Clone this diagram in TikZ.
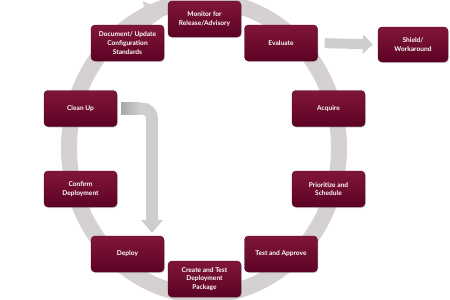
\documentclass[tikz,border=0pt]{standalone}
\usepackage{fontspec}
\setmainfont{Lato}
\usetikzlibrary{arrows.meta,shadows}
\definecolor{boxtop}{RGB}{128,22,58}
\definecolor{boxbot}{RGB}{92,2,36}
\definecolor{boxedge}{RGB}{80,0,30}
\definecolor{ringc}{RGB}{213,209,209}
\definecolor{arrc}{RGB}{206,206,206}
\definecolor{arrdark}{RGB}{168,168,168}
\begin{document}
\begin{tikzpicture}[x=1pt,y=-1pt,
  stepbox/.style={draw=boxedge, line width=0.4pt, rounded corners=4pt,
    top color=boxtop, bottom color=boxbot,
    minimum width=73pt, minimum height=36pt, inner sep=1pt,
    align=center, text=white,
    font=\fontsize{6.6}{8.6}\selectfont\bfseries,
    drop shadow={shadow xshift=0.8pt, shadow yshift=-1pt, opacity=0.35}},
  grayarrow/.style={draw=arrc}]
\useasboundingbox (0,0) rectangle (450,300);
% ring
\draw[ringc, line width=16pt] (204,148) ellipse [x radius=135, y radius=147];
\fill[ringc] (143,1) -- (168,13) -- (147,28) -- cycle;
% nodes
\node[stepbox] (monitor) at (204.5,19) {Monitor for\\Release/Advisory};
\node[stepbox] (document) at (127.5,43) {Document/ Update\\Configuration\\Standards};
\node[stepbox] (evaluate) at (281,43) {Evaluate};
\node[stepbox, minimum width=70pt, minimum height=35pt] (shield) at (413,44.5) {Shield/\\Workaround};
\node[stepbox] (cleanup) at (80.5,108.5) {Clean Up};
\node[stepbox] (acquire) at (328.5,108.5) {Acquire};
\node[stepbox] (confirm) at (80.5,189) {Confirm\\Deployment};
\node[stepbox] (prioritize) at (328.5,189) {Prioritize and\\Schedule};
\node[stepbox] (deploy) at (127.5,254) {Deploy};
\node[stepbox] (test) at (281,254) {Test and Approve};
\node[stepbox] (create) at (204.5,279) {Create and Test\\Deployment\\Package};
% Evaluate -> Shield
\draw[arrc, line width=10pt, -{Triangle[width=19pt,length=10pt]}, shorten <=7pt, shorten >=5pt]
  (evaluate.east) -- (shield.west);
% Clean Up -> Deploy
\coordinate (bend) at (152,108.5);
\coordinate (deploytip) at (152,233);
\draw[arrc, line width=12pt, rounded corners=10pt, -{Triangle[width=21pt,length=13pt]}, shorten <=4pt]
  (cleanup.east) -- (bend) -- (deploytip);
\shade[left color=arrdark, right color=arrc] (121,102.5) rectangle (140,114.5);
\end{tikzpicture}
\end{document}
